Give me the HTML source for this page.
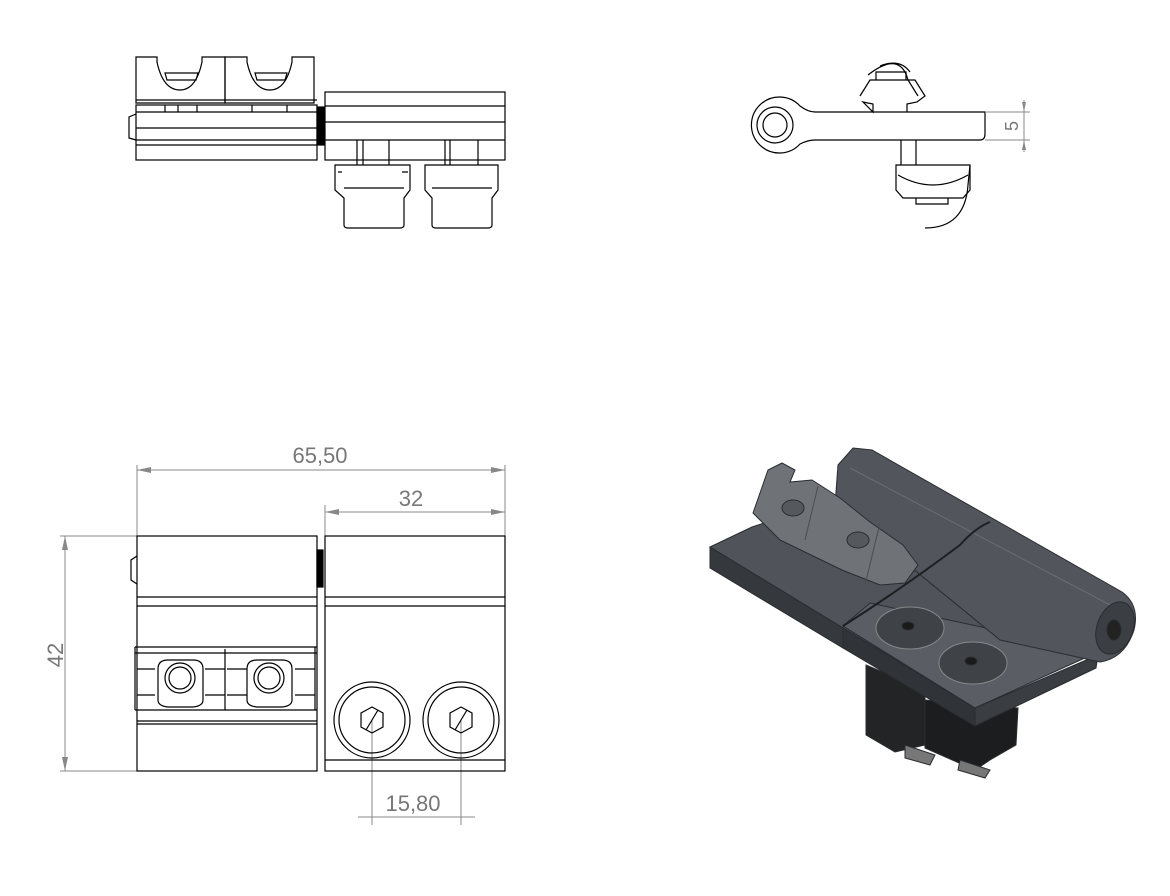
<!DOCTYPE html>
<html><head><meta charset="utf-8"><style>
html,body{margin:0;padding:0;background:#fff;}
svg{display:block;}
text{font-family:"Liberation Sans",sans-serif;fill:#777;}
</style></head><body>
<svg width="1170" height="896" viewBox="0 0 1170 896" xmlns="http://www.w3.org/2000/svg">
<g fill="none" stroke="#000" stroke-width="1.2">
<!-- TOP VIEW -->
<path d="M136,103 V57 H157 V62 Q163,90 180,90 Q196,90 202,62 V57 H225 V103 Z"/>
<path d="M225,103 V57 H247 V62 Q253,90 270,90 Q286,90 292,62 V57 H314 V103 Z"/>
<path d="M165,73 H198 L196,80 H167 Z M255,73 H287 L285,80 H257 Z"/>
<line x1="136" y1="100" x2="317" y2="100"/>
<rect x="136" y="105" width="181" height="55"/>
<path d="M136,112 H317 M136,128 H317 M136,140 H317 M136,145 H317"/>
<path d="M165,105 V112 M178,105 V112 M197,105 V112 M252,105 V112 M287,105 V112"/>
<path d="M136,114 L129,117 V138 L136,140"/>
<rect x="317" y="107" width="7" height="38" fill="#000"/>
<rect x="325" y="92" width="180" height="68"/>
<path d="M325,106 H505 M325,122 H505 M325,140 H505"/>
<path d="M357,140 V165 M363,140 V165 M389,140 V165 M445,140 V165 M450,140 V165 M478,140 V165"/>
<path d="M335,165 H410 V190 L404,198 V225 Q404,228 400,228 H348 Q344,228 344,225 V198 L335,190 Z M344,188 H404 M338,172 H342 M402,172 H408"/>
<path d="M425,165 H498 V190 L492,198 V225 Q492,228 488,228 H436 Q432,228 432,225 V198 L425,190 Z M432,188 H492"/>
<!-- SIDE VIEW -->
<path d="M815,112 Q808,112 800,106 A28,28 0 1 0 800,144 Q808,140 815,140 H980 Q985,140 985,134 V112 Z"/>
<circle cx="775" cy="125" r="18"/><circle cx="775" cy="125" r="12"/>
<path d="M860,96 L870,80 H915 L925,96 L917,102 L907,104 V112 M873,104 V112 L863,102 Z"/>
<path d="M876,80 V72 H906 V80"/>
<path d="M868,75 Q900,50 908,80 L918,96 M880,66 Q900,58 910,72"/>
<path d="M916,140 V165 M901,140 V165"/>
<path d="M896,165 H970 V190 L963,198 H903 L896,190 Z M898,175 Q933,195 968,175"/>
<path d="M916,198 V204 H948 V198"/>
<path d="M925,228 Q965,228 968,185 L970,165"/>
</g>
<g stroke="#888" stroke-width="1" fill="none">
<path d="M985,112 H1030 M985,140 H1030 M1024,100 V152"/>
<path d="M137,465 V536 M505,465 V536 M137,470 H505 M325,505 V536 M325,512 H505"/>
<path d="M60,536 H137 M60,771 H137 M65,536 V771"/>
<path d="M372,720 V825 M461,720 V825 M358,817 H475"/>
</g>
<g fill="#888">
<path d="M137,470 l14,-3 v6 z M505,470 l-14,-3 v6 z M325,512 l14,-3 v6 z M505,512 l-14,-3 v6 z"/>
<path d="M65,536 l-3,14 h6 z M65,771 l-3,-14 h6 z"/>
<path d="M1024,112 l-2,-10 h4 z M1024,140 l-2,10 h4 z"/>
</g>
<text x="320" y="463" font-size="22" text-anchor="middle">65,50</text>
<text x="411" y="506" font-size="22" text-anchor="middle">32</text>
<text x="413" y="811" font-size="22" text-anchor="middle">15,80</text>
<text transform="translate(63,655) rotate(-90)" font-size="22" text-anchor="middle">42</text>
<text transform="translate(1018,126) rotate(-90)" font-size="18" text-anchor="middle">5</text>
<!-- BOTTOM VIEW -->
<g fill="none" stroke="#000" stroke-width="1.2">
<rect x="137" y="536" width="180" height="235"/>
<rect x="317" y="550" width="6" height="37" fill="#000"/>
<path d="M137,556 L131,560 V580 L137,584"/>
<rect x="325" y="536" width="180" height="235"/>
<path d="M137,597 H317 M137,606 H317 M325,597 H505 M325,606 H505"/>
<path d="M135,647 H317 M135,653 H317 M135,710 H317 M137,721 H317 M137,724 H317 M325,760 H505"/>
<path d="M135,647 V710 M225,649 V710 M315,647 V710"/>
<path d="M137,669 H155 M137,695 H155 M205,669 H225 M205,695 H225 M227,669 H247 M227,695 H247 M295,669 H315 M295,695 H315"/>
<path d="M158,669 Q158,660 168,660 H193 Q203,660 203,669 V700 Q203,706 193,707 H168 Q158,706 158,700 Z"/>
<path d="M247,669 Q247,660 257,660 H282 Q292,660 292,669 V700 Q292,706 282,707 H257 Q247,706 247,700 Z"/>
<circle cx="180" cy="678" r="15"/><circle cx="180" cy="678" r="11"/>
<circle cx="269" cy="678" r="15"/><circle cx="269" cy="678" r="11"/>
<circle cx="372" cy="720" r="38"/><circle cx="372" cy="720" r="33"/>
<circle cx="461" cy="720" r="38"/><circle cx="461" cy="720" r="33"/>
<path d="M372,707 L383,713 V727 L372,733 L361,727 V713 Z M366,730 L378,710"/>
<path d="M461,707 L472,713 V727 L461,733 L450,727 V713 Z M455,730 L467,710"/>
</g>
<!-- 3D VIEW -->
<g stroke="#2a2c30" stroke-width="1">
<!-- bottom nuts -->
<path d="M866,665 L925,690 L925,745 L895,752 L866,735 Z" fill="#232426"/>
<path d="M925,700 L1018,708 L1016,745 L990,760 L975,770 L925,748 Z" fill="#1c1d1f"/>
<path d="M905,745 L935,755 L930,765 L905,758 Z M960,760 L990,770 L985,778 L958,770 Z" fill="#777"/>
<!-- plate top -->
<path d="M710,547 L752,527 L835,500 L1100,650 L975,708 L843,628 Z" fill="#50545a"/>
<!-- left plate front -->
<path d="M710,547 L843,628 L843,648 L710,568 Z" fill="#35383c"/>
<!-- right plate -->
<path d="M843,626 L870,603 L1098,652 L975,708 Z" fill="#5a5e64"/>
<path d="M843,628 L975,708 L975,726 L843,648 Z" fill="#303337"/>
<path d="M975,708 L1098,655 L1096,668 L975,726 Z" fill="#3a3d41"/>
<!-- barrel -->
<path d="M835,505 L838,465 L853,448 L872,450 L1122,592 Q1140,605 1134,630 Q1125,658 1100,662 L1000,640 Z" fill="#52565c"/>
<path d="M850,468 L1112,606" stroke="#6a6e74" fill="none"/>
<path d="M843,626 Q900,590 960,545 Q975,528 990,522" fill="none" stroke="#1d1f22" stroke-width="2"/>
<ellipse cx="1115" cy="628" rx="18" ry="27" fill="#3b3e43" transform="rotate(20 1115 628)"/>
<ellipse cx="1114" cy="630" rx="7" ry="10" fill="#222"/>
<!-- nut -->
<path d="M753,513 L768,470 L782,463 L795,470 L790,482 L812,480 L840,498 L870,522 L903,545 L918,565 L905,583 L880,585 L842,570 L780,540 Z" fill="#6f7277"/>
<path d="M818,486 L805,540 M880,523 L865,585" stroke="#4a4d52" fill="none"/>
<ellipse cx="793" cy="508" rx="11" ry="8" fill="#55585d"/>
<ellipse cx="858" cy="540" rx="11" ry="8" fill="#55585d"/>
<!-- screws -->
<ellipse cx="910" cy="628" rx="34" ry="21" fill="#3f4247" stroke="#888"/>
<ellipse cx="908" cy="626" rx="6" ry="4" fill="#1a1a1a"/>
<ellipse cx="973" cy="663" rx="34" ry="21" fill="#3f4247" stroke="#888"/>
<ellipse cx="971" cy="661" rx="6" ry="4" fill="#1a1a1a"/>
</g>
</svg>
</body></html>
